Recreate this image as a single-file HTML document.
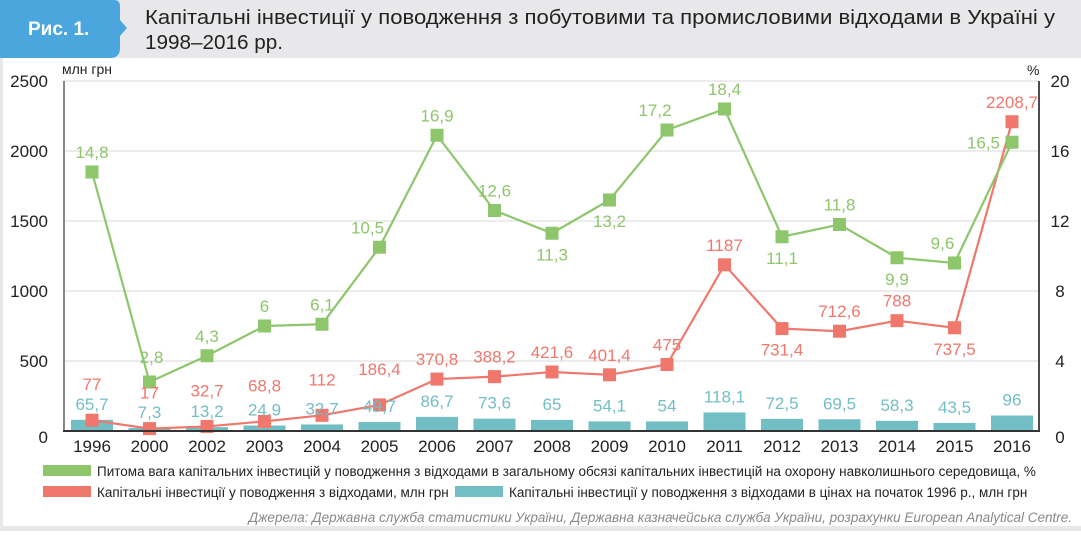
<!DOCTYPE html>
<html><head><meta charset="utf-8"><style>
body{margin:0;width:1081px;height:531px;overflow:hidden;background:#fff;font-family:"Liberation Sans","DejaVu Sans",sans-serif;}
svg text{font-family:"Liberation Sans","DejaVu Sans",sans-serif;}
</style></head><body>
<svg id="chart" width="1081" height="531" xmlns="http://www.w3.org/2000/svg">
<rect x="0" y="0" width="1081" height="58" fill="#e8e8ea"/>
<rect x="0" y="58" width="3" height="473" fill="#e8e8ea"/>
<rect x="0" y="526" width="1081" height="5" fill="#e8e8ea"/>
<path d="M0 0 H114 Q120 0 120 6 V20 L127 28 L120 36 V48 Q120 58 110 58 H0 Z" fill="#4ba6de"/>
<text x="28" y="35" font-size="19" font-weight="bold" fill="#fff">Рис. 1.</text>
<text x="145" y="24" font-size="20" fill="#222" textLength="910" lengthAdjust="spacingAndGlyphs">Капітальні інвестиції  у поводження з побутовими та промисловими відходами в Україні у</text>
<text x="145" y="49" font-size="20" fill="#222" textLength="138" lengthAdjust="spacingAndGlyphs">1998–2016 рр.</text>
<g id="grid"></g><g id="bars"></g><g id="lines"></g><g id="labels"></g><g id="axes"></g>
<text x="62" y="74" font-size="14" fill="#222">млн грн</text>
<text x="1027" y="75" font-size="14" fill="#222">%</text>
<rect x="43" y="465" width="48" height="11" fill="#8dc66b"/>
<text x="97" y="476" font-size="13.5" fill="#222">Питома вага капітальних інвестицій у поводження з відходами в загальному обсязі капітальних інвестицій на охорону навколишнього середовища, %</text>
<rect x="43" y="486" width="48" height="11" fill="#f0776c"/>
<text x="97" y="497" font-size="13.5" fill="#222">Капітальні інвестиції у поводження з відходами, млн грн</text>
<rect x="455" y="486" width="48" height="11" fill="#72bec5"/>
<text x="509" y="497" font-size="13.5" fill="#222">Капітальні інвестиції у поводження з відходами в цінах на початок 1996 р., млн грн</text>
<text x="1072" y="522" font-size="13.5" font-style="italic" fill="#888" text-anchor="end">Джерела: Державна служба статистики України, Державна казначейська служба України, розрахунки European Analytical Centre.</text>
</svg>
<script>
const years=["1996","2000","2002","2003","2004","2005","2006","2007","2008","2009","2010","2011","2012","2013","2014","2015","2016"];
const shareValues=[14.8,2.8,4.3,6,6.1,10.5,16.9,12.6,11.3,13.2,17.2,18.4,11.1,11.8,9.9,9.6,16.5];
const investValues=[77,17,32.7,68.8,112,186.4,370.8,388.2,421.6,401.4,475,1187,731.4,712.6,788,737.5,2208.7];
const realValues=[65.7,7.3,13.2,24.9,32.7,49.7,86.7,73.6,65,54.1,54,118.1,72.5,69.5,58.3,43.5,96];
const leftTicks=[0,500,1000,1500,2000,2500];
const rightTicks=[0,4,8,12,16,20];
const shareLabelPos=["u","ur","u","u","u","ul","u","u","d","d","ul","u","d","u","d","ul","l"];
const investLabelPos=["uu","uu","uu","uu","uu","uu","u","u","u","u","u","u","d","u","u","d","u"];
const NS="http://www.w3.org/2000/svg";
const X0=92,XS=57.5,Y0=431,YT=81;
const x=i=>X0+i*XS;
const yL=v=>Y0-(Y0-YT)*v/2500;
const yR=v=>Y0-(Y0-YT)*v/20;
const fmt=v=>String(v).replace('.',',');
function mk(p,t,a){const e=document.createElementNS(NS,t);for(const k in a)e.setAttribute(k,a[k]);document.getElementById(p).appendChild(e);return e;}
leftTicks.forEach((t,i)=>{
 if(t>0){const g=mk('grid','line',{x1:64,x2:1039,y1:yL(t),y2:yL(t),stroke:'#d8d8d8','stroke-width':1});
 
 }
 const l=mk('axes','text',{x:48,y:yL(t)+(t===0?12:6),'font-size':17,'text-anchor':'end',fill:'#222'});l.textContent=t;
 
 
});
rightTicks.forEach(t=>{
 const l=mk('axes','text',{x:1060,y:yR(t)+(t===0?12:6),'font-size':17,'text-anchor':'middle',fill:'#222'});l.textContent=t;
 
 
});
let a=mk('axes','line',{x1:64,x2:64,y1:YT,y2:Y0,stroke:'#888','stroke-width':2});


a=mk('axes','line',{x1:1039,x2:1039,y1:YT,y2:Y0,stroke:'#111','stroke-width':1.5});


a=mk('axes','line',{x1:63,x2:1040,y1:Y0,y2:Y0,stroke:'#333','stroke-width':2});


years.forEach((yr,i)=>{
 const t=mk('axes','text',{x:x(i),y:452,'font-size':17,'text-anchor':'middle',fill:'#222'});t.textContent=yr;
 
 
});
realValues.forEach((v,i)=>{
 const b=mk('bars','rect',{x:x(i)-21,y:yL(v)-2,width:42,height:Y0-yL(v)+2,fill:'#72bec5'});
 
 
 const t=mk('labels','text',{x:x(i),y:yL(v)-12,'font-size':17,'text-anchor':'middle',fill:'#72bec5'});t.textContent=fmt(v);
 
 
});
function series(vals,yf,col,name,pos){
 const pl=mk('lines','polyline',{points:vals.map((v,i)=>x(i)+','+yf(v)).join(' '),fill:'none',stroke:col,'stroke-width':2.2});
 
 
 vals.forEach((v,i)=>{
  const m=mk('lines','rect',{x:x(i)-6.5,y:yf(v)-6.5,width:13,height:13,fill:col});
  
  
  let lx=x(i),ly=yf(v)-14,an='middle';
  if(pos[i]==='uu')ly=Math.min(yf(v)-30,403);
  if(pos[i]==='d')ly=yf(v)+27;
  if(pos[i]==='ul'){lx=x(i)-12;ly=yf(v)-14;}
  if(pos[i]==='ur'){lx=x(i)+2;ly=yf(v)-19;}
  if(pos[i]==='l'){lx=x(i)-12;ly=yf(v)+6;an='end';}
  const t=mk('labels','text',{x:lx,y:ly,'font-size':17,'text-anchor':an,fill:col});t.textContent=fmt(v);
  
  
 });
}
series(investValues,yL,'#f0776c','investment',investLabelPos);
series(shareValues,yR,'#8dc66b','share',shareLabelPos);
</script>
</body></html>
